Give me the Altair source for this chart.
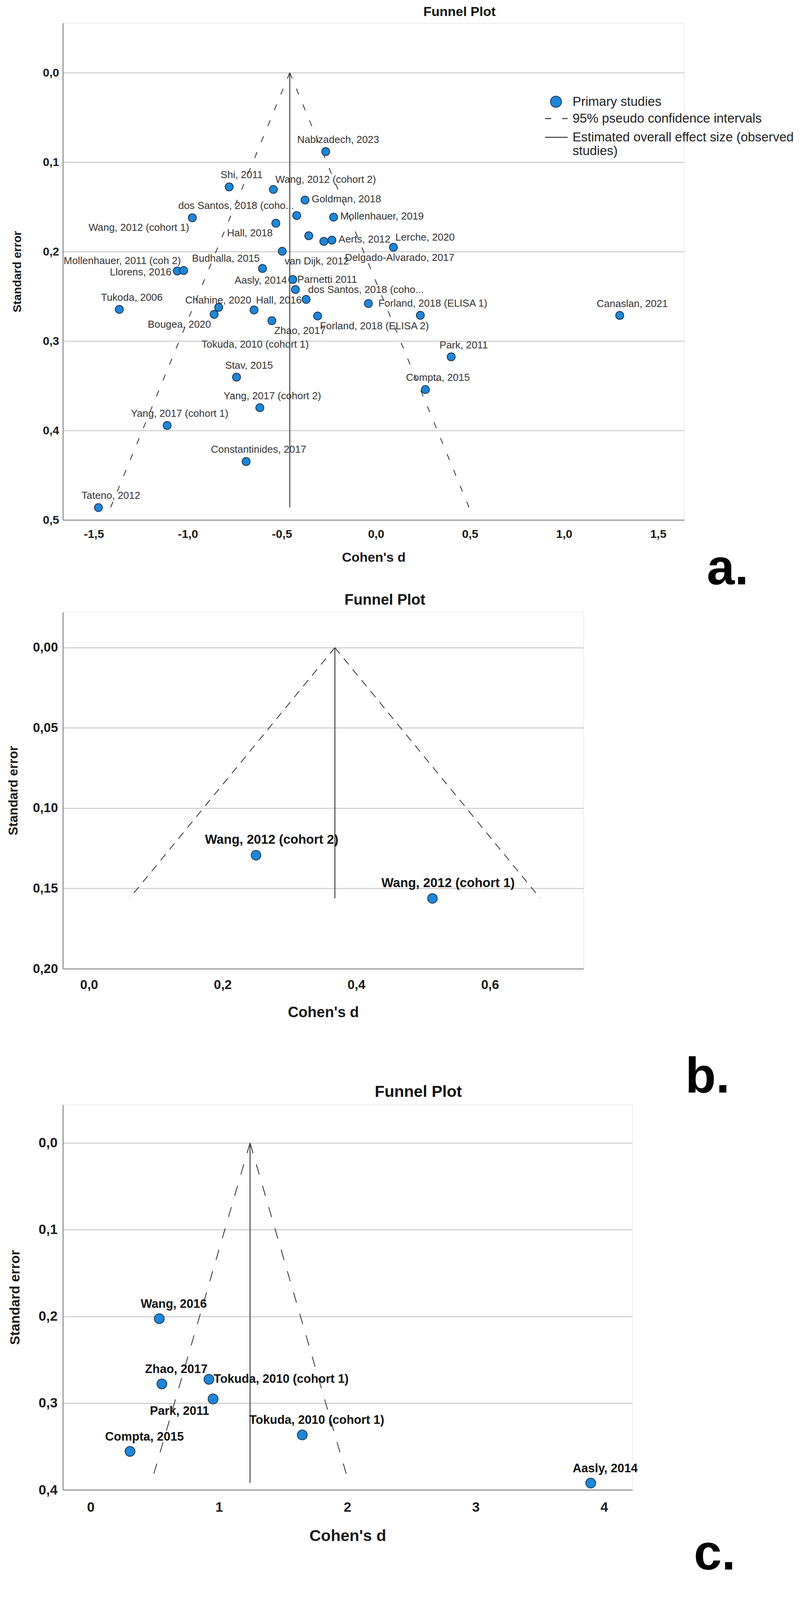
import altair as alt
import pandas as pd

FONT = "Liberation Sans"
FILL = "#1e87d8"
EDGE = "#1b3350"
GRID = "#d3d3d3"
DOMAIN = "#9a9a9a"

# ---------------- panel a ----------------
a_d = [-0.267, -0.780, -0.545, -0.377, -0.976, -0.421, -0.225, -0.532, -0.357, -0.277,
       -0.234, 0.093, -0.498, -1.056, -1.022, -0.603, -0.442, -0.428, -0.371, -0.040,
       0.236, -1.364, -0.836, -0.860, -0.648, -0.553, -0.310, 1.296, 0.400, -0.741,
       0.263, -0.617, -1.110, -0.690, -1.475]
a_se = [0.0882, 0.1277, 0.1305, 0.1424, 0.1622, 0.1597, 0.1615, 0.1683, 0.1823, 0.1886,
        0.1872, 0.1952, 0.1997, 0.2217, 0.2212, 0.2189, 0.2312, 0.2424, 0.2535, 0.2581,
        0.2713, 0.2646, 0.2623, 0.2702, 0.2653, 0.2773, 0.2720, 0.2714, 0.3177, 0.3404,
        0.3543, 0.3745, 0.3944, 0.4347, 0.4862]
a_labels = ["Nabizadech, 2023", "Shi, 2011", "Wang, 2012 (cohort 2)", "Goldman, 2018",
            "Wang, 2012 (cohort 1)", "dos Santos, 2018 (coho...", "Mollenhauer, 2019",
            "Hall, 2018", "Aerts, 2012", "Lerche, 2020", "Delgado-Alvarado, 2017",
            "van Dijk, 2012", "Llorens, 2016", "Mollenhauer, 2011 (coh 2)", "Budhalla, 2015",
            "Aasly, 2014", "Parnetti 2011", "dos Santos, 2018 (coho...", "Hall, 2016",
            "Chahine, 2020", "Bougea, 2020", "Tukoda, 2006", "Zhao, 2017",
            "Forland, 2018 (ELISA 2)", "Forland, 2018 (ELISA 1)", "Canaslan, 2021",
            "Tokuda, 2010 (cohort 1)", "Park, 2011", "Stav, 2015", "Compta, 2015",
            "Yang, 2017 (cohort 2)", "Yang, 2017 (cohort 1)", "Constantinides, 2017",
            "Tateno, 2012"]
a_label_point = [0, 1, 2, 3, 4, 5, 6, 7, 10, 11, 11, 12, 13, 14, 15, 16, 17, 18, 24, 24,
                 23, 21, 25, 26, 20, 27, 24, 28, 29, 30, 31, 32, 33, 34]
a_label_place = ["above", "above", "ur", "right", "ll", "ul", "right", "ll", "right", "ur",
                 "below", "lr", "left", "ul", "ul", "left", "ur", "ur", "ur", "ul",
                 "ll", "above", "lr", "lr", "above", "above", "b2", "above", "above",
                 "above", "above", "above", "above", "above"]
a_est = -0.458
a_se_max = 0.486
a_left_d = -1.410
a_right_d = 0.495

# ---------------- panel b ----------------
b_d = [0.250, 0.514]
b_se = [0.1293, 0.1562]
b_labels = ["Wang, 2012 (cohort 2)", "Wang, 2012 (cohort 1)"]
b_label_place = ["above", "above"]
b_est = 0.368
b_se_max = 0.156
b_left_d = 0.061
b_right_d = 0.675

# ---------------- panel c ----------------
c_d = [0.535, 0.555, 0.922, 0.954, 0.307, 1.649, 3.896]
c_se = [0.2027, 0.2779, 0.2726, 0.2952, 0.3557, 0.3367, 0.3922]
c_labels = ["Wang, 2016", "Zhao, 2017", "Tokuda, 2010 (cohort 1)", "Park, 2011",
            "Compta, 2015", "Tokuda, 2010 (cohort 1)", "Aasly, 2014"]
c_label_place = ["above", "above", "right", "ll", "above", "above", "above"]
c_est = 1.242
c_se_max = 0.392
c_left_d = 0.472
c_right_d = 2.012

LEG_POINTS = "Primary studies"
LEG_CI = "95% pseudo confidence intervals"
LEG_EST = "Estimated overall effect size (observed studies)"


def num_expr(dec):
    return ("(datum.value < 0 ? '-' : '') + replace(format(abs(datum.value), '.%df'), '.', ',')"
            % dec)


def funnel_frames(est, se_max, left_d, right_d):
    f = pd.DataFrame({
        "side": ["L", "L", "R", "R"],
        "k": [0, 1, 0, 1],
        "d": [est, left_d, est, right_d],
        "se": [0.0, se_max, 0.0, se_max],
        "leg": LEG_CI,
    })
    v = pd.DataFrame({"k": [0, 1], "d": [est, est], "se": [0.0, se_max], "leg": LEG_EST})
    return f, v


def make_panel(d, se, labels, label_point, label_place, est, se_max, left_d, right_d,
               st, legend=False):
    x_axis = alt.Axis(values=st["xticks"], labelExpr=num_expr(st["xdec"]), grid=False,
                      ticks=False, domainColor=DOMAIN, domainWidth=3, labelFont=FONT,
                      labelFontSize=st["tick_fs"], labelFontWeight="bold", labelColor="#1a1a1a",
                      labelPadding=st["xlabpad"], labelFlush=False, labelOverlap=False,
                      title="Cohen's d", titleFont=FONT, titleFontSize=st["title_fs"],
                      titleFontWeight="bold", titleColor="#1a1a1a",
                      titlePadding=st["xtitlepad"])
    y_axis = alt.Axis(values=st["yticks"], labelExpr=num_expr(st["ydec"]), grid=True,
                      gridColor=GRID, gridWidth=3, ticks=False, domainColor=DOMAIN,
                      domainWidth=3, labelFont=FONT, labelFontSize=st["tick_fs"],
                      labelFontWeight="bold", labelColor="#1a1a1a",
                      labelPadding=st["ylabpad"], labelFlush=False, labelOverlap=False,
                      title="Standard error", titleFont=FONT, titleFontSize=st["ytitle_fs"],
                      titleFontWeight="bold", titleColor="#1a1a1a",
                      titlePadding=st["ytitlepad"])
    x = alt.X("d:Q", scale=alt.Scale(domain=st["xdom"], nice=False, zero=False), axis=x_axis)
    y = alt.Y("se:Q", scale=alt.Scale(domain=st["ydom"], nice=False, zero=False, reverse=True),
              axis=y_axis)

    fdf, vdf = funnel_frames(est, se_max, left_d, right_d)
    pdf = pd.DataFrame({"d": d, "se": se, "series": LEG_POINTS})
    pt_mark = dict(filled=True, shape="circle", size=st["pt_size"], stroke=EDGE,
                   strokeWidth=2, opacity=1)

    if legend:
        dash_legend = alt.Legend(
            title=None, orient="none", legendX=st["leg2x"], legendY=st["leg2y"],
            symbolSize=3364, symbolStrokeWidth=2.5, symbolStrokeColor="#333333",
            labelFont=FONT, labelFontSize=33, labelColor="#222222", labelLimit=1200,
            labelOffset=11, rowPadding=0,
            labelExpr=("datum.label == '" + LEG_EST + "'"
                       " ? ['Estimated overall effect size (observed', 'studies)']"
                       " : datum.label"))
        dash_enc = alt.StrokeDash(
            "leg:N", scale=alt.Scale(domain=[LEG_CI, LEG_EST], range=[st["dash"], [1, 0]]),
            legend=dash_legend)
        funnel = alt.Chart(fdf).mark_line(strokeWidth=2, color="#2b2b2b").encode(
            x=x, y=y, detail="side:N", order="k:Q", strokeDash=dash_enc)
        vline = alt.Chart(vdf).mark_line(strokeWidth=2.5, color="#444444").encode(
            x=x, y=y, order="k:Q", strokeDash=dash_enc)
        color = alt.Color(
            "series:N", scale=alt.Scale(domain=[LEG_POINTS], range=[FILL]),
            legend=alt.Legend(
                title=None, orient="none", legendX=st["legx"], legendY=st["legy"],
                symbolType="circle", symbolSize=800, symbolStrokeWidth=2,
                labelFont=FONT, labelFontSize=33, labelColor="#222222", labelLimit=1200,
                labelOffset=st["leg_off"]))
        points = alt.Chart(pdf).mark_point(**pt_mark).encode(x=x, y=y, color=color)
    else:
        funnel = alt.Chart(fdf).mark_line(strokeDash=st["dash"], strokeWidth=2,
                                          color="#2b2b2b").encode(
            x=x, y=y, detail="side:N", order="k:Q")
        vline = alt.Chart(vdf).mark_line(strokeWidth=2.5, color="#444444").encode(
            x=x, y=y, order="k:Q")
        points = alt.Chart(pdf).mark_point(fill=FILL, **pt_mark).encode(x=x, y=y)

    ldf = pd.DataFrame({
        "text": labels,
        "d": [d[i] for i in label_point],
        "se": [se[i] for i in label_point],
        "place": label_place,
    })
    layers = [funnel, vline, points]
    for code, (align, dx, dy) in st["places"].items():
        sub = ldf[ldf["place"] == code]
        if len(sub) == 0:
            continue
        layers.append(alt.Chart(sub).mark_text(
            align=align, baseline="middle", dx=dx, dy=dy, font=FONT,
            fontSize=st["lab_fs"], fontWeight=st["lab_fw"], color=st["lab_col"]
        ).encode(x=x, y=y, text="text:N"))

    return alt.layer(*layers).properties(
        width=st["w"], height=st["h"],
        title=alt.TitleParams("Funnel Plot", font=FONT, fontSize=st["ptitle_fs"],
                              fontWeight="bold", color="#111111", anchor="middle",
                              frame="group", dx=st["ptitle_dx"], offset=st["ptitle_off"]))


style_a = dict(
    w=1591, h=1272, xdom=[-1.664, 1.639], ydom=[-0.0555, 0.5],
    xticks=[-1.5, -1.0, -0.5, 0.0, 0.5, 1.0, 1.5], yticks=[0, 0.1, 0.2, 0.3, 0.4, 0.5],
    xdec=1, ydec=1, tick_fs=30, title_fs=34, ytitle_fs=30, xlabpad=21, xtitlepad=28,
    ylabpad=10, ytitlepad=50, dash=[16, 28], pt_size=420, lab_fs=26, lab_fw="normal",
    lab_col="#333333", ptitle_fs=34, ptitle_dx=220, ptitle_off=11,
    legx=1246, legy=185, leg_off=26, leg2x=1233, leg2y=214,
    places={
        "above": ("center", 32, -30), "below": ("center", 16, 27), "b2": ("center", 3, 88),
        "right": ("left", 17, -2), "left": ("right", -15, 3), "ur": ("left", 5, -25),
        "ul": ("right", -7, -25), "lr": ("left", 6, 26), "ll": ("right", -8, 26),
    })
style_b = dict(
    w=1333, h=913, xdom=[-0.039, 0.74], ydom=[-0.0221, 0.2],
    xticks=[0.0, 0.2, 0.4, 0.6], yticks=[0, 0.05, 0.10, 0.15, 0.20],
    xdec=1, ydec=2, tick_fs=33, title_fs=38, ytitle_fs=33, xlabpad=25, xtitlepad=35,
    ylabpad=13, ytitlepad=32, dash=[20, 16], pt_size=600, lab_fs=33, lab_fw="bold",
    lab_col="#111111", ptitle_fs=38, ptitle_dx=158, ptitle_off=11,
    places={"above": ("center", 40, -39)})
style_c = dict(
    w=1458, h=986, xdom=[-0.216, 4.22], ydom=[-0.044, 0.4],
    xticks=[0, 1, 2, 3, 4], yticks=[0, 0.1, 0.2, 0.3, 0.4],
    xdec=0, ydec=1, tick_fs=35, title_fs=41, ytitle_fs=35, xlabpad=27, xtitlepad=36,
    ylabpad=14, ytitlepad=42, dash=[27, 30], pt_size=640, lab_fs=31, lab_fw="bold",
    lab_col="#111111", ptitle_fs=41, ptitle_dx=181, ptitle_off=11,
    places={"above": ("center", 37, -37), "right": ("left", 12, 0),
            "ll": ("right", -10, 32)})

panel_a = make_panel(a_d, a_se, a_labels, a_label_point, a_label_place, a_est, a_se_max,
                     a_left_d, a_right_d, style_a, legend=True)
panel_b = make_panel(b_d, b_se, b_labels, [0, 1], b_label_place, b_est, b_se_max,
                     b_left_d, b_right_d, style_b)
panel_c = make_panel(c_d, c_se, c_labels, list(range(7)), c_label_place, c_est, c_se_max,
                     c_left_d, c_right_d, style_c)


def tag(text, offset, dx):
    return alt.TitleParams(text, orient="bottom", anchor="end", font=FONT, fontSize=128,
                           fontWeight="bold", color="#000000", offset=offset, dx=dx)


wrap_a = alt.vconcat(panel_a, title=tag("a.", -50, 164))
wrap_b = alt.vconcat(panel_b, title=tag("b.", 84, 374))
wrap_c = alt.vconcat(panel_c, title=tag("c.", -36, 250))

bc = alt.vconcat(wrap_b, wrap_c, spacing=-49)
chart = alt.vconcat(wrap_a, bc, spacing=-5).properties(
    padding={"left": 10, "top": 5, "right": 0, "bottom": 0},
    background="white",
).configure_view(strokeWidth=0).configure(font=FONT)

chart.save("out.html", embed_options={"renderer": "svg", "actions": False})
